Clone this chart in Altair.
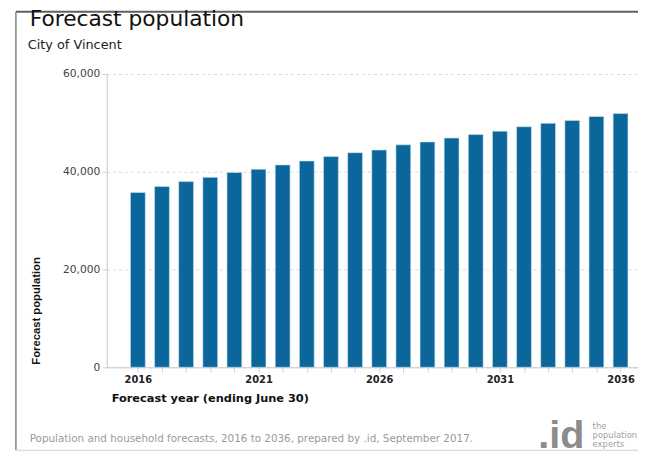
import altair as alt
import pandas as pd

# ---- data ----
years = [2016, 2017, 2018, 2019, 2020, 2021, 2022, 2023, 2024, 2025, 2026,
         2027, 2028, 2029, 2030, 2031, 2032, 2033, 2034, 2035, 2036]
population = [35760, 36970, 37980, 38850, 39860, 40500, 41400, 42200, 43100, 43900, 44450,
              45500, 46100, 46900, 47600, 48300, 49200, 49900, 50500, 51300, 51900]
y_ticks = [0, 20000, 40000, 60000]

title_text = "Forecast population"
subtitle_text = "City of Vincent"
x_title = "Forecast year (ending June 30)"
y_title = "Forecast population"
footer_text = "Population and household forecasts, 2016 to 2036, prepared by .id, September 2017."
logo_text = ".id"
logo_lines = ["the", "population", "experts"]

BAR = "#0b679b"
W, H = 538, 297

df = pd.DataFrame({"year": years, "population": population})
one = pd.DataFrame({"k": [0]})

x_scale = alt.Scale(domain=[2014.916, 2036.52], nice=False, zero=False)
y_scale = alt.Scale(domain=[0, 60000], nice=False)

bars = alt.Chart(df).mark_bar(color=BAR, size=15, stroke="#cfe0ec", strokeWidth=0.6).encode(
    x=alt.X("year:Q", scale=x_scale, axis=alt.Axis(
        values=years, title=None, grid=False,
        labelExpr="(datum.value - 2016) % 5 == 0 ? toString(datum.value) : ''",
        labelFont="DejaVu Sans", labelFontWeight="bold", labelFontSize=10, labelColor="#222",
        labelBaseline="top", labelPadding=2, labelFlush=False,
        tickSize=5, tickColor="#d0d0d8", domainColor="#c8c8d0", domainWidth=1)),
    y=alt.Y("population:Q", scale=y_scale, axis=alt.Axis(
        values=y_ticks, title=None,
        labelExpr="format(datum.value, ',')",
        labelFont="DejaVu Sans", labelFontSize=10.8, labelColor="#444",
        labelPadding=2, tickSize=5, tickColor="#d0d0d8",
        domainColor="#d0d0d8", domainWidth=1.2,
        grid=True, gridDash=[3, 3], gridColor="#d8d8d8", gridWidth=1)),
)

def txt(text, x, y, size, font="DejaVu Sans", weight="normal", color="#111",
        align="left", baseline="alphabetic", angle=0):
    return alt.Chart(one).mark_text(
        text=text, font=font, fontSize=size, fontWeight=weight, color=color,
        align=align, baseline=baseline, angle=angle,
    ).encode(x=alt.value(x), y=alt.value(y))

layers = [
    # frame
    alt.Chart(one).mark_rule(color="#606060", strokeWidth=2).encode(
        x=alt.value(-92), x2=alt.value(W), y=alt.value(-63)),
    alt.Chart(one).mark_rule(color="#808080", strokeWidth=1.5).encode(
        x=alt.value(-92), y=alt.value(-63), y2=alt.value(381)),
    alt.Chart(one).mark_rule(color="#d0d0d0", strokeWidth=1).encode(
        x=alt.value(-92), x2=alt.value(W), y=alt.value(381)),
    bars,
    txt(title_text, -78, -49, 22),
    txt(subtitle_text, -80, -25, 13, color="#222"),
    txt(y_title, -71, 240, 11.4, font="Liberation Sans", weight="bold",
        align="center", baseline="middle", angle=270),
    txt(x_title, 5, 332, 11.5, weight="bold"),
    txt(footer_text, -78, 373, 10.5, color="#9a9a9a"),
    txt(logo_text, 437, 379, 40, font="Liberation Sans", weight="bold", color="#8c8c8c"),
    txt(logo_lines[0], 492, 359, 8.5, color="#a0a0a0"),
    txt(logo_lines[1], 492, 368.5, 8.5, color="#a0a0a0"),
    txt(logo_lines[2], 492, 378, 8.5, color="#a0a0a0"),
]

chart = alt.layer(*layers).properties(
    width=W, height=H,
    autosize=alt.AutoSizeParams(type="none"),
    padding={"left": 100, "top": 64, "right": 2, "bottom": 85},
    background="white",
).configure_view(stroke=None)

chart.save("out.html", embed_options={"renderer": "svg", "actions": False})
